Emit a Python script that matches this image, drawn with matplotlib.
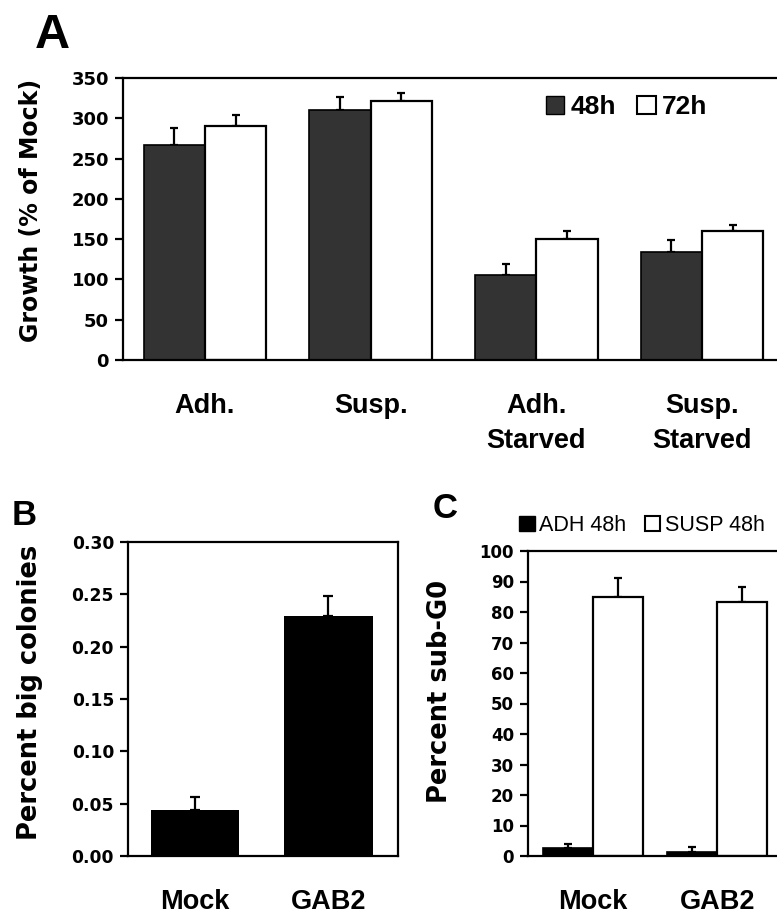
import matplotlib
matplotlib.use('Agg')
import matplotlib.pyplot as plt
import numpy as np
from matplotlib.patches import Patch

plt.rcParams['font.family'] = ['Liberation Sans', 'DejaVu Sans']

# panel A data
groups_a = ['Adh.', 'Susp.', 'Adh.\nStarved', 'Susp.\nStarved']
growth_48 = [267, 310, 106, 134]
err_48 = [21, 17, 13, 15]
growth_72 = [291, 322, 150, 160]
err_72 = [13, 10, 10, 8]

# panel B data
groups_b = ['Mock', 'GAB2']
big_colonies = [0.044, 0.229]
big_colonies_err = [0.012, 0.019]

# panel C data
groups_c = ['Mock', 'GAB2']
adh_48 = [2.6, 1.4]
adh_48_err = [1.3, 1.6]
susp_48 = [85.0, 83.3]
susp_48_err = [6.0, 5.0]

W, H = 777, 914
fig = plt.figure(figsize=(W / 100, H / 100), dpi=100)
WIDE = 'DejaVu Sans'   # wide heavy look of the tick numbers / y titles


def px_axes(left, top, right, bottom):
    return fig.add_axes([left / W, 1 - bottom / H, (right - left) / W, (bottom - top) / H])


def style(ax, tick_fs=12.5):
    for s in ax.spines.values():
        s.set_linewidth(1.6)
        s.set_color('black')
    ax.tick_params(axis='y', direction='out', length=6, width=1.6, pad=4)
    ax.tick_params(axis='x', length=0, pad=24)
    for t in ax.get_yticklabels():
        t.set_fontweight('bold')
        t.set_fontfamily(WIDE)
        t.set_fontsize(tick_fs)
    for t in ax.get_xticklabels():
        t.set_fontweight('bold')
        t.set_fontsize(19.5)


def up_err(ax, x, y, e, capsize=3):
    ax.errorbar(x, y, yerr=[np.zeros(len(e)), e], fmt='none', ecolor='black',
                elinewidth=1.6, capsize=capsize, capthick=1.6, zorder=1)


# ---- A ----
axA = px_axes(123, 78, 784, 360)
xa = np.arange(len(groups_a))
wa = 0.37
axA.bar(xa - wa / 2, growth_48, wa, color='#333333', edgecolor='black', linewidth=1.2, zorder=2)
axA.bar(xa + wa / 2, growth_72, wa, color='white', edgecolor='black', linewidth=1.6, zorder=2)
up_err(axA, xa - wa / 2, growth_48, err_48)
up_err(axA, xa + wa / 2, growth_72, err_72)
axA.set_xlim(-0.495, 3.495)
axA.set_ylim(0, 350)
axA.set_yticks(np.arange(0, 351, 50))
axA.set_xticks(xa)
axA.set_xticklabels(groups_a, linespacing=1.45, va='top')
style(axA, 13)
axA.set_ylabel('Growth (% of Mock)', fontsize=17, fontweight='bold', family=WIDE)
axA.yaxis.set_label_coords(-0.121, 0.53)
axA.legend(handles=[Patch(facecolor='#333333', edgecolor='black', label='48h'),
                    Patch(facecolor='white', edgecolor='black', linewidth=1.5, label='72h')],
           loc='center', bbox_to_anchor=(0.762, 0.897), ncol=2, frameon=False,
           handlelength=0.7, handleheight=0.7, handletextpad=0.25, columnspacing=0.8,
           prop={'size': 19, 'weight': 'bold'})

# ---- B ----
axB = px_axes(128, 542, 398, 856)
xb = np.arange(len(groups_b))
axB.bar(xb, big_colonies, 0.66, color='black', zorder=2)
up_err(axB, xb, big_colonies, big_colonies_err, capsize=3.5)
axB.set_xlim(-0.5, 1.52)
axB.set_ylim(0, 0.30)
yb = np.arange(0, 0.301, 0.05)
axB.set_yticks(yb)
axB.set_yticklabels(['%.2f' % v for v in yb])
axB.set_xticks(xb)
axB.set_xticklabels(groups_b)
style(axB, 12.3)
axB.set_ylabel('Percent big colonies', fontsize=18.5, fontweight='bold', family=WIDE)
axB.yaxis.set_label_coords(-0.315, 0.522)

# ---- C ----
axC = px_axes(528, 551, 782, 856)
xc = np.arange(len(groups_c))
wc = 0.40
axC.bar(xc - wc / 2, adh_48, wc, color='black', edgecolor='black', linewidth=1.2, zorder=2)
axC.bar(xc + wc / 2, susp_48, wc, color='white', edgecolor='black', linewidth=1.6, zorder=2)
up_err(axC, xc - wc / 2, adh_48, adh_48_err)
up_err(axC, xc + wc / 2, susp_48, susp_48_err)
axC.set_xlim(-0.52, 1.52)
axC.set_ylim(0, 100)
axC.set_yticks(np.arange(0, 101, 10))
axC.set_xticks(xc)
axC.set_xticklabels(groups_c)
style(axC, 12)
axC.set_ylabel('Percent sub-G0', fontsize=18.5, fontweight='bold', family=WIDE)
axC.yaxis.set_label_coords(-0.295, 0.54)
axC.legend(handles=[Patch(facecolor='black', edgecolor='black', label='ADH 48h'),
                    Patch(facecolor='white', edgecolor='black', linewidth=1.5, label='SUSP 48h')],
           loc='center', bbox_to_anchor=(0.449, 1.085), ncol=2, frameon=False,
           handlelength=0.7, handleheight=0.7, handletextpad=0.2, columnspacing=0.9,
           prop={'size': 15.5})

# panel letters
fig.text(35 / W, 1 - 48 / H, 'A', fontsize=35, fontweight='bold', va='baseline')
fig.text(12 / W, 1 - 525 / H, 'B', fontsize=25, fontweight='bold', va='baseline')
fig.text(433 / W, 1 - 518 / H, 'C', fontsize=25, fontweight='bold', va='baseline')

fig.savefig('out.png', dpi=100)
